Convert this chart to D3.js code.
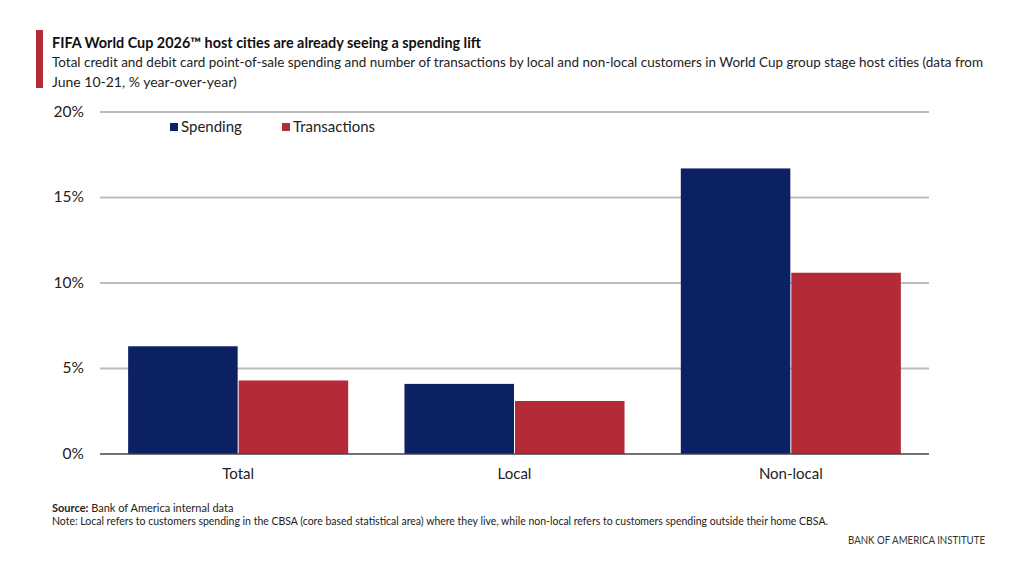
<!DOCTYPE html>
<html>
<head>
<meta charset="utf-8">
<script src="https://cdn.jsdelivr.net/npm/d3@7"></script>
<style>
  body { margin: 0; background: #fff; }
  svg { font-family: Lato, "Noto Sans", sans-serif; }
</style>
</head>
<body>
<svg width="1023" height="566"></svg>
<script>
// data
var categories = ["Total", "Local", "Non-local"];
var seriesNames = ["Spending", "Transactions"];
var spending = [6.3, 4.1, 16.7];
var transactions = [4.3, 3.1, 10.6];
var yTicks = [0, 5, 10, 15, 20];

var colors = { "Spending": "#0b2163", "Transactions": "#b42b37" };

var margin = { top: 112, right: 94, bottom: 112, left: 100 },
    width = 1023 - margin.left - margin.right,
    height = 566 - margin.top - margin.bottom;

var svg = d3.select("svg");

// header
svg.append("rect")
    .attr("x", 36).attr("y", 30)
    .attr("width", 7).attr("height", 58)
    .attr("fill", "#b42b37");

svg.append("text")
    .attr("x", 52).attr("y", 48)
    .attr("font-size", 14.5)
    .attr("font-weight", "bold")
    .attr("fill", "#111")
    .attr("textLength", 429)
    .attr("lengthAdjust", "spacingAndGlyphs")
    .text("FIFA World Cup 2026\u2122 host cities are already seeing a spending lift");

var subtitle = [
    "Total credit and debit card point-of-sale spending and number of transactions by local and non-local customers in World Cup group stage host cities (data from",
    "June 10-21, % year-over-year)"
];
var subLen = [931, null];
svg.selectAll("text.sub")
    .data(subtitle)
    .enter().append("text")
    .attr("class", "sub")
    .attr("x", 52)
    .attr("y", function (d, i) { return 67 + i * 20; })
    .attr("font-size", 14)
    .attr("fill", "#222")
    .each(function (d, i) {
        if (subLen[i]) d3.select(this).attr("textLength", subLen[i]).attr("lengthAdjust", "spacingAndGlyphs");
    })
    .text(function (d) { return d; });

var g = svg.append("g")
    .attr("transform", "translate(" + margin.left + "," + margin.top + ")");

var x0 = d3.scaleBand()
    .domain(categories)
    .range([0, width])
    .paddingInner(0.2)
    .paddingOuter(0.1);

var x1 = d3.scaleBand()
    .domain(seriesNames)
    .range([0, x0.bandwidth()])
    .padding(0);

var y = d3.scaleLinear()
    .domain([0, 20])
    .range([height, 0]);

// gridlines
g.selectAll("line.grid")
    .data(yTicks.slice(1))
    .enter().append("line")
    .attr("class", "grid")
    .attr("x1", 0).attr("x2", width)
    .attr("y1", function (d) { return y(d); })
    .attr("y2", function (d) { return y(d); })
    .attr("stroke", "#bdbdbd")
    .attr("stroke-width", 2);

// y tick labels
g.selectAll("text.ytick")
    .data(yTicks)
    .enter().append("text")
    .attr("class", "ytick")
    .attr("x", -16)
    .attr("y", function (d) { return y(d); })
    .attr("dy", "0.3em")
    .attr("text-anchor", "end")
    .attr("font-size", 15.5)
    .attr("fill", "#222")
    .text(function (d) { return d + "%"; });

// bars
var rows = categories.map(function (c, i) {
    return { cat: c, values: [
        { key: "Spending", value: spending[i] },
        { key: "Transactions", value: transactions[i] }
    ] };
});

var groups = g.selectAll("g.cat")
    .data(rows)
    .enter().append("g")
    .attr("class", "cat")
    .attr("transform", function (d) { return "translate(" + x0(d.cat) + ",0)"; });

groups.selectAll("rect")
    .data(function (d) { return d.values; })
    .enter().append("rect")
    .attr("x", function (d) { return x1(d.key) + 0.5; })
    .attr("width", x1.bandwidth() - 1)
    .attr("y", function (d) { return y(d.value); })
    .attr("height", function (d) { return y(0) - y(d.value); })
    .attr("fill", function (d) { return colors[d.key]; });

// baseline
g.append("line")
    .attr("x1", 0).attr("x2", width)
    .attr("y1", y(0)).attr("y2", y(0))
    .attr("stroke", "#444")
    .attr("stroke-width", 1.5);

// x labels
g.selectAll("text.xlab")
    .data(categories)
    .enter().append("text")
    .attr("class", "xlab")
    .attr("x", function (d) { return x0(d) + x0.bandwidth() / 2; })
    .attr("y", height + 25)
    .attr("text-anchor", "middle")
    .attr("font-size", 15)
    .attr("fill", "#222")
    .text(function (d) { return d; });

// legend
var legendX = [70, 182];
var legend = g.selectAll("g.legend")
    .data(seriesNames)
    .enter().append("g")
    .attr("class", "legend")
    .attr("transform", function (d, i) { return "translate(" + legendX[i] + ",15)"; });

legend.append("rect")
    .attr("x", 0).attr("y", -4)
    .attr("width", 8).attr("height", 8)
    .attr("fill", function (d) { return colors[d]; });

legend.append("text")
    .attr("x", 11)
    .attr("y", 0)
    .attr("dy", "0.35em")
    .attr("font-size", 15)
    .attr("fill", "#222")
    .text(function (d) { return d; });

// footer
var src = svg.append("text")
    .attr("x", 52).attr("y", 512)
    .attr("font-size", 11)
    .attr("fill", "#222");
src.append("tspan").attr("font-weight", "bold").text("Source:");
src.append("tspan").text(" Bank of America internal data");

svg.append("text")
    .attr("x", 52).attr("y", 525)
    .attr("font-size", 11)
    .attr("fill", "#222")
    .attr("textLength", 776)
    .attr("lengthAdjust", "spacingAndGlyphs")
    .text("Note: Local refers to customers spending in the CBSA (core based statistical area) where they live, while non-local refers to customers spending outside their home CBSA.");

svg.append("text")
    .attr("x", 985).attr("y", 544)
    .attr("text-anchor", "end")
    .attr("font-size", 11)
    .attr("fill", "#333")
    .attr("textLength", 137)
    .attr("lengthAdjust", "spacingAndGlyphs")
    .text("BANK OF AMERICA INSTITUTE");
</script>
</body>
</html>
